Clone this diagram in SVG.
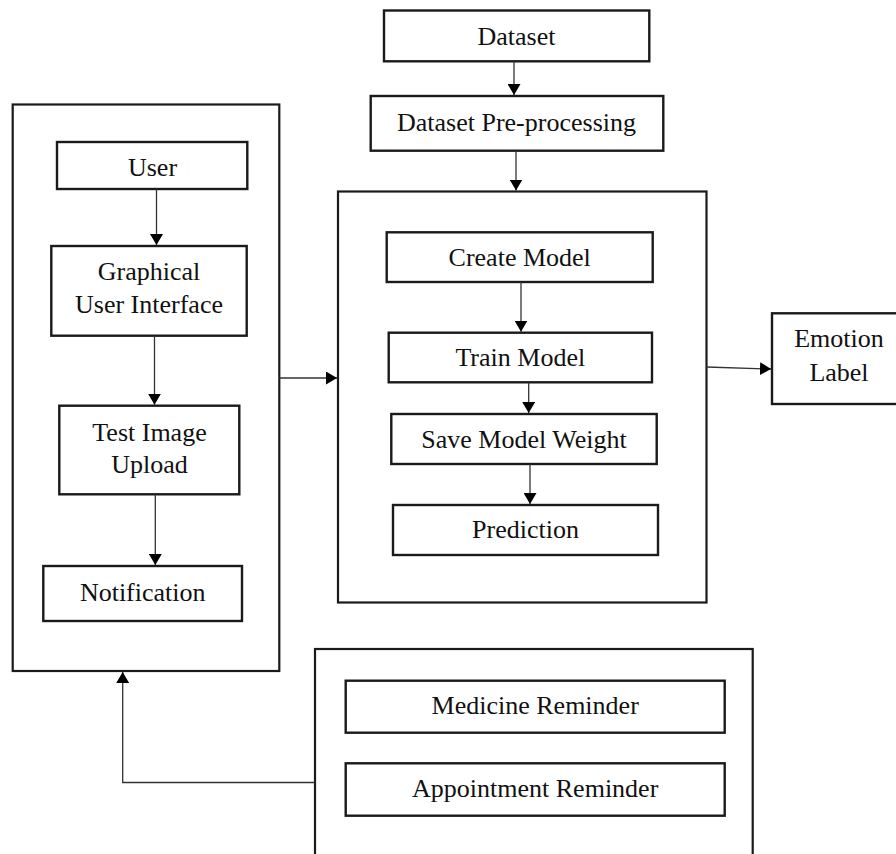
<svg xmlns="http://www.w3.org/2000/svg" width="896" height="854" viewBox="0 0 896 854">
<style>
.box{fill:#fff;stroke:#1a1a1a;stroke-width:2.4}
.panel{fill:#fff;stroke:#1a1a1a;stroke-width:2.2}
.t{font-family:"Liberation Serif","Times New Roman",serif;font-size:26px;fill:#111;text-anchor:middle}
.c{fill:none;stroke:#333;stroke-width:1.3}
</style>
<defs>
<marker id="ah" markerUnits="userSpaceOnUse" markerWidth="13" markerHeight="13" refX="11" refY="6.5" orient="auto">
<path d="M0,0 L11,6.5 L0,13 z" fill="#000"/>
</marker>
</defs>
<rect width="896" height="854" fill="#fff"/>

<g id="user-panel"><rect class="panel" x="12.7" y="104.5" width="266.6" height="566.5"/></g>
<g id="model-panel"><rect class="panel" x="338" y="191.5" width="368.5" height="411"/></g>
<g id="reminder-panel"><rect class="panel" x="315" y="649" width="437.7" height="230"/></g>

<g id="dataset"><rect class="box" x="384" y="10.5" width="265.3" height="50.8"/><text class="t" x="516.5" y="44.5">Dataset</text></g>
<g id="preprocessing"><rect class="box" x="370.7" y="96" width="292.6" height="54.7"/><text class="t" x="516.5" y="130.5">Dataset Pre-processing</text></g>

<g id="user"><rect class="box" x="57" y="142" width="190.3" height="47"/><text class="t" x="152.5" y="176">User</text></g>
<g id="gui"><rect class="box" x="51.3" y="246" width="195.4" height="89.7"/><text class="t" x="149" y="280">Graphical</text><text class="t" x="149" y="313">User Interface</text></g>
<g id="test-image"><rect class="box" x="59.3" y="405.7" width="180" height="88.6"/><text class="t" x="149.5" y="440.5">Test Image</text><text class="t" x="149.5" y="472.5">Upload</text></g>
<g id="notification"><rect class="box" x="43.3" y="566" width="198.7" height="55"/><text class="t" x="142.7" y="601">Notification</text></g>

<g id="create-model"><rect class="box" x="386.7" y="232.3" width="266" height="49.7"/><text class="t" x="519.7" y="266">Create Model</text></g>
<g id="train-model"><rect class="box" x="388.7" y="332.7" width="263.3" height="49.6"/><text class="t" x="520.3" y="366">Train Model</text></g>
<g id="save-weight"><rect class="box" x="391.3" y="414" width="265.4" height="50"/><text class="t" x="524" y="447.7">Save Model Weight</text></g>
<g id="prediction"><rect class="box" x="393" y="505" width="265" height="50"/><text class="t" x="525.5" y="538.3">Prediction</text></g>

<g id="emotion-label"><rect class="box" x="772" y="313.3" width="140" height="90.7"/><text class="t" x="839" y="347.3">Emotion</text><text class="t" x="839" y="380.7">Label</text></g>

<g id="medicine-reminder"><rect class="box" x="345.7" y="680.7" width="379" height="52"/><text class="t" x="535.2" y="714.3">Medicine Reminder</text></g>
<g id="appointment-reminder"><rect class="box" x="345.7" y="763.3" width="379" height="52.4"/><text class="t" x="535.2" y="796.7">Appointment Reminder</text></g>

<g id="connectors">
<line class="c" x1="514" y1="61.3" x2="514" y2="95" marker-end="url(#ah)"/>
<line class="c" x1="516" y1="150.7" x2="516" y2="190.5" marker-end="url(#ah)"/>
<line class="c" x1="156.5" y1="189" x2="156.5" y2="245" marker-end="url(#ah)"/>
<line class="c" x1="154.5" y1="335.7" x2="154.5" y2="404.7" marker-end="url(#ah)"/>
<line class="c" x1="155.3" y1="494.3" x2="155.3" y2="565" marker-end="url(#ah)"/>
<line class="c" x1="279.3" y1="378" x2="337" y2="378" marker-end="url(#ah)"/>
<line class="c" x1="521" y1="282" x2="521" y2="331.7" marker-end="url(#ah)"/>
<line class="c" x1="528.7" y1="382.3" x2="528.7" y2="413" marker-end="url(#ah)"/>
<line class="c" x1="530" y1="464" x2="530" y2="504" marker-end="url(#ah)"/>
<line class="c" x1="706.5" y1="367" x2="771" y2="369" marker-end="url(#ah)"/>
<polyline class="c" points="315,782.5 122.7,782.5 122.7,672" marker-end="url(#ah)"/>
</g>
</svg>
